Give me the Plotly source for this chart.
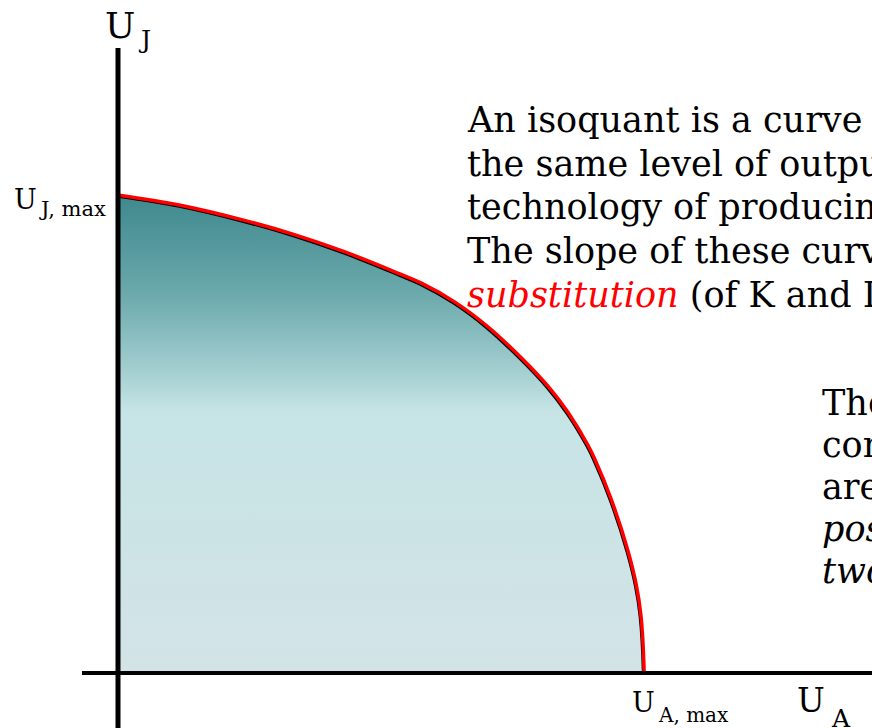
import plotly.graph_objects as go

# Frontier (utility possibility curve)
u_a = [0.0, 1.12, 2.39, 3.34, 4.29, 5.24, 5.75, 6.39, 7.02, 7.66, 8.17, 8.55,
       8.93, 9.05, 9.37, 9.69, 9.85, 9.94, 10.0, 10.0]
u_j = [10.05, 9.85, 9.52, 9.22, 8.86, 8.44, 8.20, 7.80, 7.28, 6.62, 6.02, 5.47,
       4.78, 4.51, 3.65, 2.56, 1.84, 1.19, 0.06, 0.0]

text_lines = [
    "An isoquant is a curve",
    "the same level of output",
    "technology of producing",
    "The slope of these curves",
]
text_line5 = ["substitution", " (of K and L)"]
text2_lines = ["The", "con", "are", "<i>pos</i>", "<i>two</i>"]

W, H = 872, 728
X0, Y0 = 118, 673          # origin in pixels
SX, SY = 52.5, 47.4        # pixels per unit
xr = [(0 - X0) / SX, (W - X0) / SX]
yr = [(Y0 - H) / SY, (Y0 - 0) / SY]

fig = go.Figure()

poly_x = [0.0] + u_a + [0.0]
poly_y = [0.0] + u_j + [0.0]
fig.add_trace(go.Scatter(
    x=poly_x, y=poly_y, mode="lines", fill="toself",
    line=dict(width=0, color="rgba(0,0,0,0)"),
    fillgradient=dict(type="vertical",
                      colorscale=[[0.0, "#d3e3e6"], [0.55, "#c6e4e6"],
                                  [0.62, "#a9d2d4"], [0.80, "#6aa8ab"],
                                  [1.0, "#3f898e"]]),
    hoverinfo="skip", showlegend=False))
fig.add_trace(go.Scatter(
    x=u_a, y=u_j, mode="lines",
    line=dict(color="black", width=2.5, shape="spline", smoothing=0.8),
    hoverinfo="skip", showlegend=False))
fig.add_trace(go.Scatter(
    x=[v + 0.02 for v in u_a], y=[v + 0.03 for v in u_j], mode="lines",
    line=dict(color="#ff0000", width=3.5, shape="spline", smoothing=0.8),
    hoverinfo="skip", showlegend=False))

# axes
fig.add_shape(type="line", x0=(82 - X0) / SX, x1=xr[1], y0=0, y1=0,
              line=dict(color="black", width=4))
fig.add_shape(type="line", x0=0, x1=0, y0=yr[0], y1=(Y0 - 48) / SY,
              line=dict(color="black", width=5))

FONT = "DejaVu Serif"


def px_ann(text, x, baseline, size, color="black", xanchor="left"):
    # place text so its baseline lands at the given pixel row
    yc = baseline - 0.346 * size
    fig.add_annotation(text=text, xref="paper", yref="paper",
                       x=x / W, y=1 - yc / H, xanchor=xanchor, yanchor="middle",
                       showarrow=False, font=dict(family=FONT, size=size, color=color))


# axis labels (main letter + subscript)
px_ann("U", 103, 38, 36)
px_ann("J", 136, 48, 25)
px_ann("U", 12, 209, 27)
px_ann("J, max", 37, 216, 21)
px_ann("U", 630, 712, 27)
px_ann("A, max", 656, 722, 20)
px_ann("U", 795, 712, 33)
px_ann("A", 829, 727, 25)

for i, t in enumerate(text_lines):
    px_ann(t, 465, 132 + 43.8 * i, 35)
px_ann("<span style='color:#ff0000'><i>" + text_line5[0] + "</i></span>" + text_line5[1],
       465, 132 + 43.8 * 4, 35)

for i, t in enumerate(text2_lines):
    px_ann(t, 820, 415 + 42 * i, 35)

fig.update_layout(
    width=W, height=H, margin=dict(l=0, r=0, t=0, b=0),
    paper_bgcolor="white", plot_bgcolor="white",
    xaxis=dict(range=xr, visible=False, fixedrange=True),
    yaxis=dict(range=yr, visible=False, fixedrange=True),
    showlegend=False,
)
fig.write_html("out.html", config={"displayModeBar": False},
               post_script="document.body.style.margin='0';document.body.style.overflow='hidden';")
